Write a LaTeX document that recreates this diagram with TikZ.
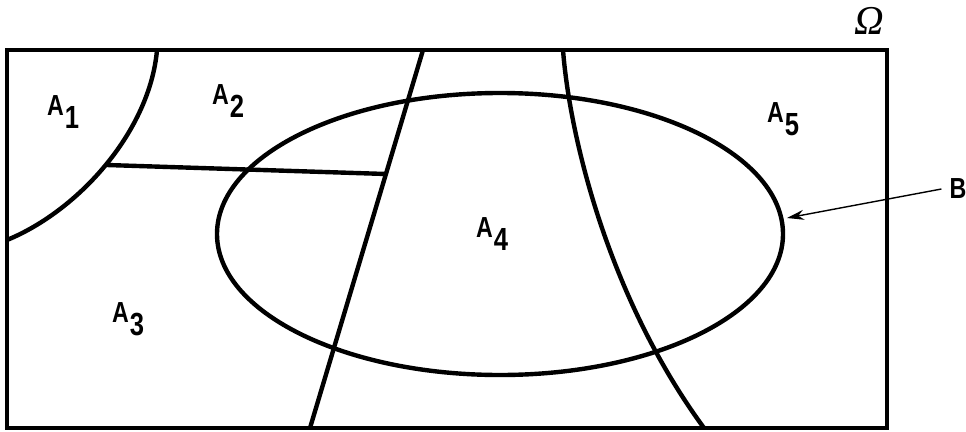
\documentclass[tikz,border=0pt]{standalone}
\usepackage{fontspec}
\setmainfont{Liberation Sans}
\newfontfamily\omegafont{Liberation Serif}
\usetikzlibrary{arrows.meta,shapes.geometric}
\newcommand\sublab[2]{\scalebox{0.8}[1]{#1\kern1pt\raisebox{-13pt}{\fontsize{32}{32}\selectfont\bfseries #2}}}
\begin{document}
\begin{tikzpicture}[x=1pt,y=-1pt,
  region/.style={line width=4.4pt},
  frame/.style={line width=3.2pt},
  lbl/.style={inner sep=0pt, anchor=base west, font=\fontsize{29}{29}\selectfont\bfseries},
  pointer/.style={line width=1.4pt, -{Stealth[length=17pt,width=10pt]}},
]
\useasboundingbox (0,0) rectangle (966,431);
% universe
\draw[frame] (7,50) rectangle (887,428);
\node[inner sep=0pt] (omega) at (869,21) {\fontsize{41}{41}\selectfont\omegafont\itshape Ω};
% partition lines
\draw[region] (157,50) .. controls (150,130) and (80,210) .. (7,240);
\draw[region] (107,165) -- (386,174);
\draw[region] (423,50) -- (310,428);
\draw[region] (563,50) .. controls (570,140) and (610,300) .. (704,428);
% set B
\node[ellipse, draw, region, inner sep=0pt, minimum width=566pt, minimum height=282pt] (setB) at (500,234) {};
% labels
\node[lbl] (a1) at (47,115) {\sublab{A}{1}};
\node[lbl] (a2) at (212,104) {\sublab{A}{2}};
\node[lbl] (a3) at (112,322) {\sublab{A}{3}};
\node[lbl] (a4) at (476,237) {\sublab{A}{4}};
\node[lbl] (a5) at (767,122) {\sublab{A}{5}};
\node[inner sep=0pt, font=\fontsize{29}{29}\selectfont\bfseries] (labB) at (958,189) {\scalebox{0.8}[1]{B}};
\coordinate (btip) at (787,218);
\draw[pointer] ([xshift=-8pt]labB.west) -- (btip);
\end{tikzpicture}
\end{document}
